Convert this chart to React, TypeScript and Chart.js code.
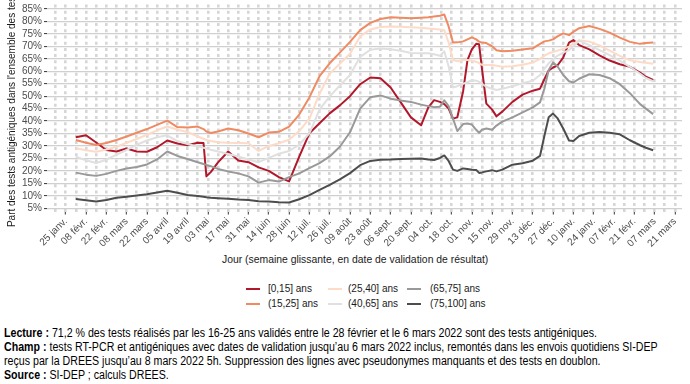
import React, { useEffect, useRef } from "react";
import { Chart, registerables } from "chart.js";
Chart.register(...registerables);

// days since 25 Jan 2021 (sliding 7-day window end dates)
const days = [7,14,21,28,35,42,49,56,63,70,77,84,91,95,97,100,105,112,119,126,133,140,147,154,161,168,175,182,189,196,203,210,217,224,231,238,245,250,254,258,261,264,267,270,274,277,280,283,285,287,290,294,297,301,308,315,322,327,330,333,336,339,343,347,350,354,361,368,375,382,389,396,400,405];

const age0_15 = [33.5,34.3,31.4,28.4,27.8,29.0,27.8,27.7,29.5,32.2,
31.0,30.3,31.3,31.2,17.8,19.5,23.4,27.8,24.2,23.5,
21.4,20.0,17.5,15.8,25.7,35.1,39.1,43.1,46.3,50.0,
54.8,57.5,57.2,53.5,47.5,41.5,38.3,45.5,48.4,47.7,
46.8,45.0,41.0,41.5,52.0,64.5,68.8,71.0,70.8,61.0,
47.0,44.6,41.9,43.8,47.7,50.6,52.2,53.0,56.8,60.3,
61.5,62.3,65.5,71.5,72.5,70.5,68.8,66.4,64.3,62.8,
61.8,59.5,57.8,56.5];

const age15_25 = [32.4,31.3,30.4,31.2,32.4,33.8,35.3,36.8,38.5,40.2,
37.6,37.4,37.8,36.8,35.8,35.2,35.8,37.0,36.3,35.0,
33.5,35.4,35.7,37.8,42.6,49.5,58.0,63.2,67.5,71.8,
76.5,79.4,81.0,81.7,81.5,81.3,81.5,81.7,82.0,82.3,
82.8,78.0,71.5,71.6,72.0,72.8,73.6,72.8,71.9,71.5,
71.3,70.0,68.4,68.0,68.2,68.7,69.2,71.0,72.0,72.3,
72.8,74.0,75.2,74.5,75.8,77.3,78.2,77.0,75.5,73.5,
71.8,71.0,71.3,71.5];

const age25_40 = [29.1,28.3,27.7,28.6,29.7,31.3,32.8,34.5,36.3,37.8,
36.5,35.6,33.8,32.9,32.4,32.0,31.5,31.3,31.2,31.1,
28.0,30.0,31.1,32.5,36.0,41.0,51.0,59.0,63.0,67.0,
74.0,76.8,77.8,78.0,77.9,77.7,77.5,77.2,77.0,76.8,
76.5,71.5,64.5,64.0,64.5,64.5,64.2,63.8,63.3,62.6,
62.5,62.5,62.2,61.8,62.0,62.6,63.5,65.0,66.2,67.2,
67.7,68.3,69.0,69.9,71.0,72.5,71.9,70.4,68.3,66.2,
64.4,63.7,63.4,63.0];

const age40_65 = [25.7,24.3,23.2,24.5,26.5,28.4,30.5,32.2,33.5,34.3,
32.0,30.8,29.8,29.3,29.0,28.5,27.8,26.8,25.8,24.6,
23.5,25.2,26.9,28.0,30.5,35.1,44.6,49.9,54.3,58.5,
65.8,68.6,69.1,68.8,68.2,67.3,67.2,67.2,66.8,66.2,
68.0,62.0,53.5,54.0,55.0,55.6,56.4,56.2,55.8,55.0,
53.8,53.0,52.5,53.0,54.0,55.2,56.2,58.5,61.0,63.2,
64.8,66.2,67.5,68.5,70.0,72.3,70.5,68.5,66.5,64.3,
61.8,59.0,57.3,56.0];

const age65_75 = [19.3,18.5,18.0,18.8,20.0,21.0,21.6,22.6,24.6,27.8,
26.0,24.8,23.5,22.8,22.4,21.9,20.8,19.8,19.0,17.8,
15.3,16.3,15.7,17.5,19.0,21.1,23.1,25.8,29.7,35.5,
45.0,49.6,50.3,49.0,48.3,47.7,46.6,46.0,45.6,45.8,
48.3,46.0,41.0,36.0,38.8,39.0,38.6,36.5,35.3,36.5,
37.0,36.5,38.2,39.8,41.5,43.5,45.5,47.5,53.0,60.5,
63.5,62.0,58.5,56.0,55.5,57.0,58.8,58.5,57.2,54.8,
51.2,46.8,45.0,42.8];

const age75_100 = [8.7,8.2,7.7,8.3,9.2,9.6,10.1,10.6,11.3,12.0,
11.2,10.3,9.9,9.6,9.4,9.2,9.0,8.8,8.5,8.3,
7.8,7.7,7.4,7.3,8.6,10.3,12.4,14.4,16.6,19.1,
22.3,24.0,24.5,24.6,24.8,24.9,25.0,24.6,24.4,25.2,
26.2,24.0,20.5,20.0,21.0,20.8,20.5,20.4,19.2,19.4,
19.8,20.3,19.8,20.5,22.5,23.1,24.1,26.0,34.0,41.5,
43.0,41.2,37.0,32.2,32.0,34.0,35.3,35.6,35.3,34.7,
32.3,30.3,29.3,28.3];

const seriesNames = ["[0,15] ans", "(15,25] ans", "(25,40] ans", "(40,65] ans", "(65,75] ans", "(75,100] ans"];
const seriesValues = [age0_15, age15_25, age25_40, age40_65, age65_75, age75_100];
const seriesColors = ["#b2182b", "#ef8a62", "#fddbc7", "#e0e0e0", "#999999", "#4d4d4d"];

// labelled every 14 days starting at day 0 (25 janv. 2021)
const xTickLabels = ["25 janv.", "08 févr.", "22 févr.", "08 mars", "22 mars", "05 avril", "19 avril", "03 mai", "17 mai", "31 mai", "14 juin", "28 juin", "12 juil.", "26 juil.", "09 août", "23 août", "06 sept.", "20 sept.", "04 oct.", "18 oct.", "01 nov.", "15 nov.", "29 nov.", "13 déc.", "27 déc.", "10 janv.", "24 janv.", "07 févr.", "21 févr.", "07 mars", "21 mars"];
const yTicks = [5, 10, 15, 20, 25, 30, 35, 40, 45, 50, 55, 60, 65, 70, 75, 80, 85];

const yTitle = "Part des tests antigéniques dans l'ensemble des tests";
const xTitle = "Jour (semaine glissante, en date de validation de résultat)";

const FONT = "'Liberation Sans', Arial, Helvetica, sans-serif";
const W = 690;
const H = 250;
const NOTE_WIDTH = 593;

export default function App() {
  const ref = useRef<HTMLCanvasElement | null>(null);
  const noteRef = useRef<HTMLDivElement | null>(null);
  const firstLineRef = useRef<HTMLSpanElement | null>(null);

  useEffect(() => {
    document.body.style.margin = "0";
    if (noteRef.current && firstLineRef.current) {
      const w = firstLineRef.current.getBoundingClientRect().width;
      if (w > 0) noteRef.current.style.transform = `scaleX(${NOTE_WIDTH / w})`;
    }
    const canvas = ref.current;
    if (!canvas) return;
    const weekTicks: number[] = [];
    for (let d = -7; d <= 420; d += 7) weekTicks.push(d);

    const chart = new Chart(canvas, {
      type: "line",
      data: {
        datasets: seriesValues.map((vals, i) => ({
          label: seriesNames[i],
          data: days.map((d, j) => ({ x: d, y: vals[j] })),
          borderColor: seriesColors[i],
          backgroundColor: seriesColors[i],
          borderWidth: 2,
          pointRadius: 0,
          tension: 0,
          fill: false,
          order: 5 - i,
          borderJoinStyle: "round" as const,
        })),
      },
      options: {
        animation: false,
        responsive: false,
        devicePixelRatio: 1,
        layout: { padding: { left: 0, right: 8, top: 4.5, bottom: 0 } },
        plugins: { legend: { display: false }, tooltip: { enabled: false } },
        scales: {
          x: {
            type: "linear",
            min: -12.9,
            max: 424.9,
            afterBuildTicks: (s: any) => {
              s.ticks = weekTicks.map((v) => ({ value: v }));
            },
            afterFit: (s: any) => {
              s.height = H - 211.5;
              s.paddingLeft = 0;
              s.paddingRight = 0;
            },
            ticks: {
              autoSkip: false,
              minRotation: 45,
              maxRotation: 45,
              padding: 1,
              color: "#4d4d4d",
              font: { family: FONT, size: 10 },
              callback: (v: any) => {
                const n = Number(v);
                return n >= 0 && n % 14 === 0 ? xTickLabels[n / 14] : "";
              },
            },
            grid: {
              color: "#d6d6d6",
              lineWidth: 2.6,
              drawTicks: true,
              tickLength: 3,
              tickWidth: 1,
              tickColor: (ctx: any) => {
                const v = ctx.tick ? ctx.tick.value : -1;
                return v >= 0 && v % 14 === 0 ? "#333333" : "rgba(0,0,0,0)";
              },
            },
            border: { display: false, dash: [3, 3.2] },
          },
          y: {
            type: "linear",
            min: 3.7,
            max: 86.8,
            afterBuildTicks: (s: any) => {
              s.ticks = yTicks.map((v) => ({ value: v }));
            },
            afterFit: (s: any) => {
              s.width = 47;
              s.paddingTop = 0;
              s.paddingBottom = 0;
            },
            ticks: {
              autoSkip: false,
              padding: 2,
              color: "#4d4d4d",
              font: { family: FONT, size: 10 },
              callback: (v: any) => `${v}%`,
            },
            grid: {
              color: "#d0d0d0",
              lineWidth: 1.2,
              tickLength: 3,
              tickWidth: 1,
              tickColor: "#333333",
            },
            border: { display: false },
            title: {
              display: true,
              text: yTitle,
              color: "#1a1a1a",
              font: { family: FONT, size: 10 },
              padding: { top: 6, bottom: 0 },
            },
          },
        },
      },
    } as any);
    return () => chart.destroy();
  }, []);

  const legendCols = [
    { line: 246, text: 268 },
    { line: 328, text: 348 },
    { line: 407, text: 430 },
  ];
  const legendRows = [289, 304];

  return (
    <div style={{ position: "relative", width: W, height: 384, background: "#ffffff", overflow: "hidden", fontFamily: FONT }}>
      <canvas ref={ref} width={W} height={H} style={{ position: "absolute", left: 0, top: 0, width: W, height: H }} />
      <div style={{ position: "absolute", left: 222, top: 254, fontSize: 10.4, lineHeight: "12px", color: "#1a1a1a", whiteSpace: "nowrap" }}>{xTitle}</div>
      {seriesNames.map((name, i) => {
        const col = legendCols[Math.floor(i / 2)];
        const cy = legendRows[i % 2];
        return (
          <React.Fragment key={name}>
            <div style={{ position: "absolute", left: col.line, top: cy - 1.3, width: 14, height: 2.6, background: seriesColors[i] }} />
            <div style={{ position: "absolute", left: col.text, top: cy - 6, fontSize: 10, lineHeight: "12px", color: "#1a1a1a", whiteSpace: "nowrap" }}>{name}</div>
          </React.Fragment>
        );
      })}
      <div ref={noteRef} style={{ position: "absolute", left: 4, top: 326, fontSize: 12.5, lineHeight: "14px", color: "#000", whiteSpace: "nowrap", transformOrigin: "0 0" }}>
        <div><span ref={firstLineRef}><b>Lecture :</b> 71,2 % des tests réalisés par les 16-25 ans validés entre le 28 février et le 6 mars 2022 sont des tests antigéniques.</span></div>
        <div><b>Champ :</b> tests RT-PCR et antigéniques avec dates de validation jusqu’au 6 mars 2022 inclus, remontés dans les envois quotidiens SI-DEP</div>
        <div>reçus par la DREES jusqu’au 8 mars 2022 5h. Suppression des lignes avec pseudonymes manquants et des tests en doublon.</div>
        <div><b>Source :</b> SI-DEP ; calculs DREES.</div>
      </div>
    </div>
  );
}
